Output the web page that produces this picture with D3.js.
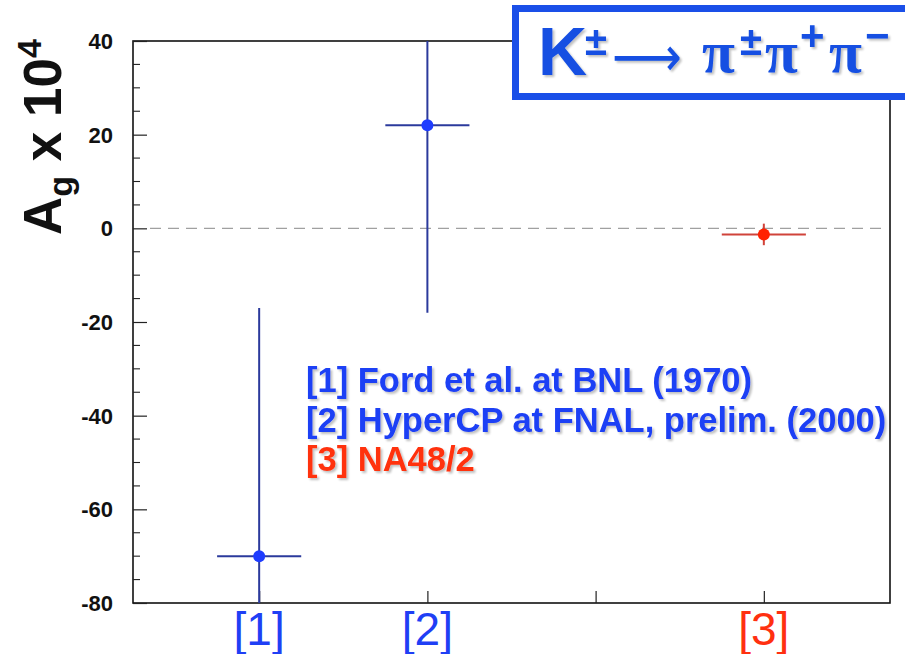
<!DOCTYPE html>
<html>
<head>
<meta charset="utf-8">
<script src="https://cdn.jsdelivr.net/npm/d3@7"></script>
<style>
  html, body { margin: 0; padding: 0; background: #fff; }
  svg { display: block; }
</style>
</head>
<body>
<svg id="chart" width="905" height="654"></svg>
<script>
// Measurements of the g asymmetry in K± → 3π decays
const refs = ["[1]", "[2]", "[3]"];
const refPos = [1, 2, 4];
const agValues = [-70, 22, -1.3];
const agErrors = [53, 40, 2.3];
const binHalfWidth = 0.25;
const refColors = ["blue", "blue", "red"];
const legendLines = [
  "[1] Ford et al. at BNL (1970)",
  "[2] HyperCP at FNAL, prelim. (2000)",
  "[3] NA48/2"
];
const yMajorTicks = [-80, -60, -40, -20, 0, 20, 40];
const yMinorTicks = d3.range(-80, 41, 5);
const xTicks = [1, 2, 3, 4];

const palette = {
  blue: { line: "#2b3a9c", point: "#1e3cff", text: "#1f3ff5" },
  red:  { line: "#d0433a", point: "#ff2200", text: "#ff3010" }
};

const svg = d3.select("#chart");
const plotL = 133, plotR = 890, plotT = 41, plotB = 603;

const x = d3.scaleLinear().domain([0.25, 4.75]).range([plotL, plotR]);
const y = d3.scaleLinear().domain([-80, 40]).range([plotB, plotT]);

const defs = svg.append("defs");
defs.append("clipPath").attr("id", "plotClip")
  .append("rect").attr("x", plotL).attr("y", plotT)
  .attr("width", plotR - plotL).attr("height", plotB - plotT);
const shadow = defs.append("filter").attr("id", "soft")
  .attr("x", "-10%").attr("y", "-10%").attr("width", "130%").attr("height", "140%");
shadow.append("feGaussianBlur").attr("in", "SourceAlpha").attr("stdDeviation", 1.2).attr("result", "b");
shadow.append("feOffset").attr("in", "b").attr("dx", 2).attr("dy", 2).attr("result", "o");
shadow.append("feComponentTransfer").attr("in", "o").attr("result", "s")
  .append("feFuncA").attr("type", "linear").attr("slope", 0.25);
const merge = shadow.append("feMerge");
merge.append("feMergeNode").attr("in", "s");
merge.append("feMergeNode").attr("in", "SourceGraphic");

// zero reference line
svg.append("line")
  .attr("x1", plotL + 17).attr("x2", plotR - 5)
  .attr("y1", y(0)).attr("y2", y(0))
  .attr("stroke", "#a0a0a0").attr("stroke-width", 1.3)
  .attr("stroke-dasharray", "11,7");

// frame
svg.append("rect")
  .attr("x", plotL).attr("y", plotT)
  .attr("width", plotR - plotL).attr("height", plotB - plotT)
  .attr("fill", "none").attr("stroke", "#111").attr("stroke-width", 1.6);

// y ticks (inward)
const yAxis = d3.axisRight(y).tickValues(yMajorTicks).tickSize(14).tickFormat("");
const gy = svg.append("g").attr("transform", `translate(${plotL},0)`).call(yAxis);
gy.select(".domain").remove();
gy.selectAll("line").attr("stroke", "#222").attr("stroke-width", 1.2);
svg.append("g").selectAll("line")
  .data(yMinorTicks.filter(v => !yMajorTicks.includes(v)))
  .join("line")
  .attr("x1", plotL).attr("x2", plotL + 7)
  .attr("y1", d => y(d)).attr("y2", d => y(d))
  .attr("stroke", "#222").attr("stroke-width", 1.1);

svg.append("g").selectAll("text")
  .data(yMajorTicks).join("text")
  .attr("x", plotL - 20).attr("y", d => y(d))
  .attr("dy", "0.36em")
  .attr("text-anchor", "end")
  .attr("font-family", "Liberation Sans, Arial, sans-serif")
  .attr("font-weight", "bold").attr("font-size", 22)
  .attr("fill", "#111")
  .text(d => d);

// x ticks (inward)
const xAxis = d3.axisTop(x).tickValues(xTicks).tickSize(12).tickFormat("");
const gx = svg.append("g").attr("transform", `translate(0,${plotB})`).call(xAxis);
gx.select(".domain").remove();
gx.selectAll("line").attr("stroke", "#222").attr("stroke-width", 1.2);

// x category labels
svg.append("g").selectAll("text")
  .data(refs).join("text")
  .attr("x", (d, i) => x(refPos[i]))
  .attr("y", 645)
  .attr("text-anchor", "middle")
  .attr("font-family", "Liberation Sans, Arial, sans-serif")
  .attr("font-size", 46)
  .attr("fill", (d, i) => palette[refColors[i]].text)
  .text(d => d);

// y axis title
const yt = svg.append("text")
  .attr("transform", "translate(61,137) rotate(-90)")
  .attr("text-anchor", "middle")
  .attr("font-family", "Liberation Sans, Arial, sans-serif")
  .attr("font-weight", "bold").attr("font-size", 53)
  .attr("fill", "#111");
yt.append("tspan").text("A");
yt.append("tspan").attr("font-size", 34).attr("dy", 11).text("g");
yt.append("tspan").attr("dy", -11).text(" x 10");
yt.append("tspan").attr("font-size", 34).attr("dy", -20).text("4");

// data points with error bars
const pts = svg.append("g").attr("clip-path", "url(#plotClip)");
const pg = pts.selectAll("g").data(refs).join("g");
pg.append("line")
  .attr("x1", (d, i) => x(refPos[i])).attr("x2", (d, i) => x(refPos[i]))
  .attr("y1", (d, i) => y(agValues[i] + agErrors[i]))
  .attr("y2", (d, i) => y(agValues[i] - agErrors[i]))
  .attr("stroke", (d, i) => palette[refColors[i]].line).attr("stroke-width", 2);
pg.append("line")
  .attr("x1", (d, i) => x(refPos[i] - binHalfWidth))
  .attr("x2", (d, i) => x(refPos[i] + binHalfWidth))
  .attr("y1", (d, i) => y(agValues[i])).attr("y2", (d, i) => y(agValues[i]))
  .attr("stroke", (d, i) => palette[refColors[i]].line).attr("stroke-width", 2);
pg.append("circle")
  .attr("cx", (d, i) => x(refPos[i])).attr("cy", (d, i) => y(agValues[i]))
  .attr("r", 6)
  .attr("fill", (d, i) => palette[refColors[i]].point);

// legend
svg.append("g").attr("filter", "url(#soft)").selectAll("text")
  .data(legendLines).join("text")
  .attr("x", 306).attr("y", (d, i) => 392 + i * 39.5)
  .attr("font-family", "Liberation Sans, Arial, sans-serif")
  .attr("font-weight", "bold").attr("font-size", 34.5)
  .attr("fill", (d, i) => palette[refColors[i]].text)
  .text(d => d);

// decay title box
svg.append("rect")
  .attr("x", 515.5).attr("y", 8.5).attr("width", 420).attr("height", 88)
  .attr("fill", "#fff").attr("stroke", "#1a4fe8").attr("stroke-width", 7);

const tcol = "#1550e2";
const title = svg.append("g").attr("filter", "url(#soft)").attr("fill", tcol);
const glyph = (t, gx0, gy0, size, family, weight, len) => {
  const el = title.append("text").attr("x", gx0).attr("y", gy0)
    .attr("font-family", family).attr("font-size", size)
    .attr("font-weight", weight).text(t);
  if (len) el.attr("textLength", len).attr("lengthAdjust", "spacingAndGlyphs");
  return el;
};
const sans = "Liberation Sans, Arial, sans-serif";
const serif = "Liberation Serif, Times New Roman, serif";
glyph("K", 538, 75, 68, sans, "bold");
glyph("±", 585, 55, 40, sans, "bold");
glyph("\u27F6", 612, 76, 56, "DejaVu Sans, sans-serif", "normal", 70);
glyph("π", 702, 72, 60, serif, "bold");
glyph("±", 740, 55, 40, sans, "bold");
glyph("π", 765, 72, 60, serif, "bold");
glyph("+", 800, 50, 42, sans, "bold");
glyph("π", 829, 72, 60, serif, "bold");
glyph("\u2212", 865, 50, 42, sans, "bold");
</script>
</body>
</html>
